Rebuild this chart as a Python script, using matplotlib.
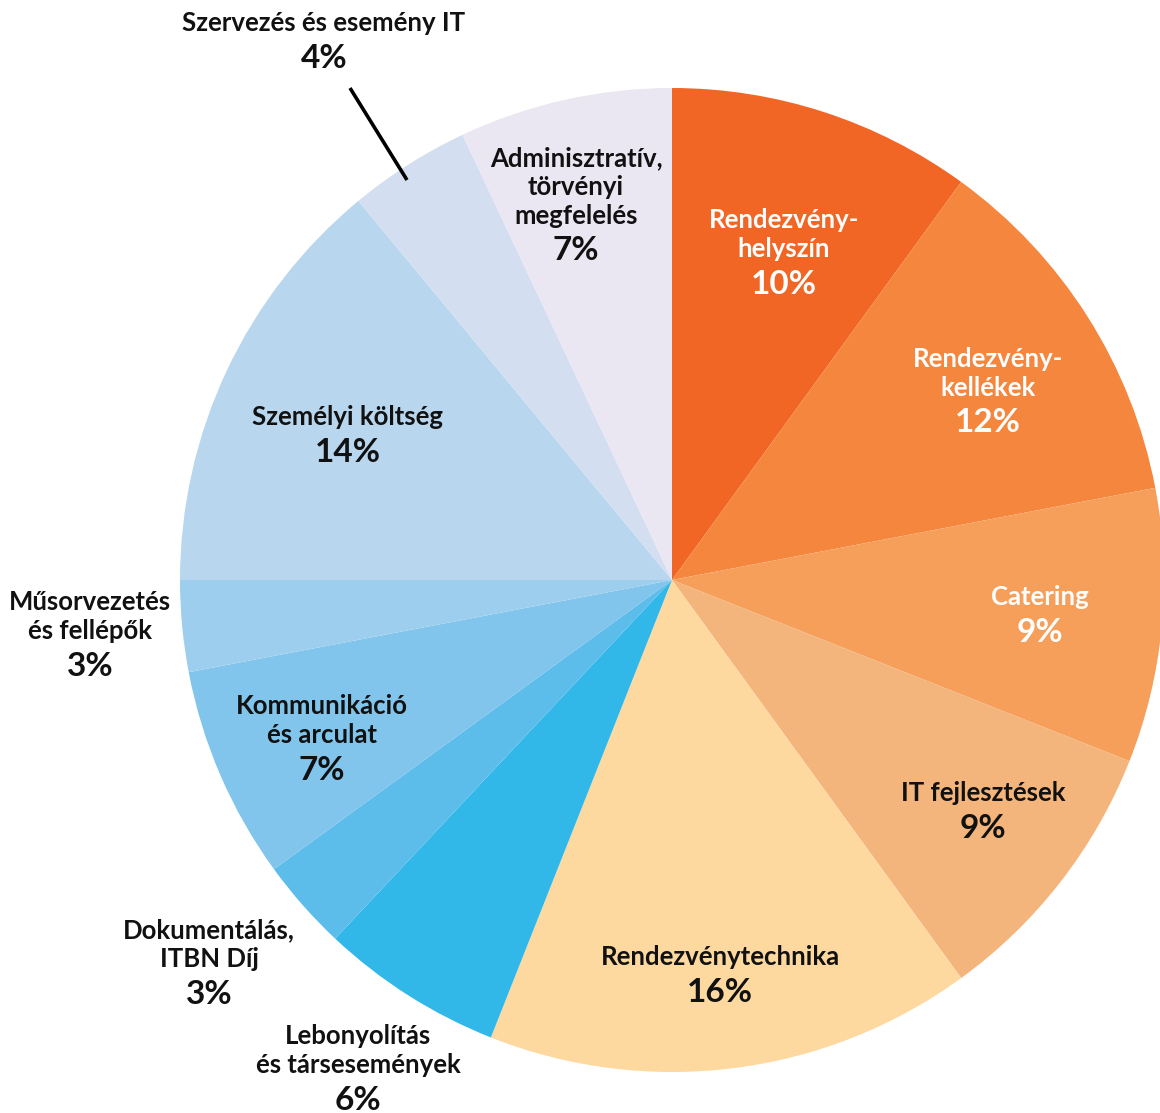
import matplotlib
matplotlib.use("Agg")
import matplotlib.pyplot as plt

# ---- data ----
categories = [
    "Rendezvény-\nhelyszín",
    "Rendezvény-\nkellékek",
    "Catering",
    "IT fejlesztések",
    "Rendezvénytechnika",
    "Lebonyolítás\nés társesemények",
    "Dokumentálás,\nITBN Díj",
    "Kommunikáció\nés arculat",
    "Műsorvezetés\nés fellépők",
    "Személyi költség",
    "Szervezés és esemény IT",
    "Adminisztratív,\ntörvényi\nmegfelelés",
]
values = [10, 12, 9, 9, 16, 6, 3, 7, 3, 14, 4, 7]
pct_labels = ["10%", "12%", "9%", "9%", "16%", "6%", "3%", "7%", "3%", "14%", "4%", "7%"]

# ---- styles ----
colors = ["#F26625", "#F4863E", "#F69F5B", "#F3B57B", "#FDD9A0", "#32B7E9",
          "#5DBDEA", "#81C5EC", "#9ECEEE", "#B8D7EF", "#D3DFF1", "#EAE6F2"]
text_colors = ["white", "white", "white"] + ["#111111"] * 9
# label anchor (x, y of top name line center, in image pixels, y downward)
label_pos = [(784, 220), (988, 359), (1040, 597), (983, 793), (720, 957),
             (358, 1036), (209, 930), (322, 706), (90, 602), (348, 417),
             (324, 23), (576, 158)]

W, H = 1160, 1113
fig = plt.figure(figsize=(W / 100, H / 100), dpi=100)
ax = fig.add_axes([0, 0, 1, 1])

cx, cy, r = 672, H - 580, 492
ax.pie(values, colors=colors, startangle=90, counterclock=False,
       center=(cx, cy), radius=r, frame=True,
       wedgeprops=dict(linewidth=0))
ax.set_xlim(0, W)
ax.set_ylim(0, H)
ax.set_aspect("equal")
ax.axis("off")

FONT = ["Lato", "DejaVu Sans"]
line_h = 29
for name, pct, (x, y), tc in zip(categories, pct_labels, label_pos, text_colors):
    lines = name.split("\n")
    for i, ln in enumerate(lines):
        ax.text(x, H - (y + i * line_h), ln, ha="center", va="center",
                fontsize=18.5, fontweight="bold", color=tc, family=FONT)
    ax.text(x, H - (y + len(lines) * line_h + 6), pct, ha="center", va="center",
            fontsize=24, fontweight="bold", color=tc, family=FONT)

# leader line for the small slice
ax.plot([350, 407], [H - 88, H - 180], color="black", lw=2.6, solid_capstyle="butt")

fig.savefig("out.png", dpi=100)
